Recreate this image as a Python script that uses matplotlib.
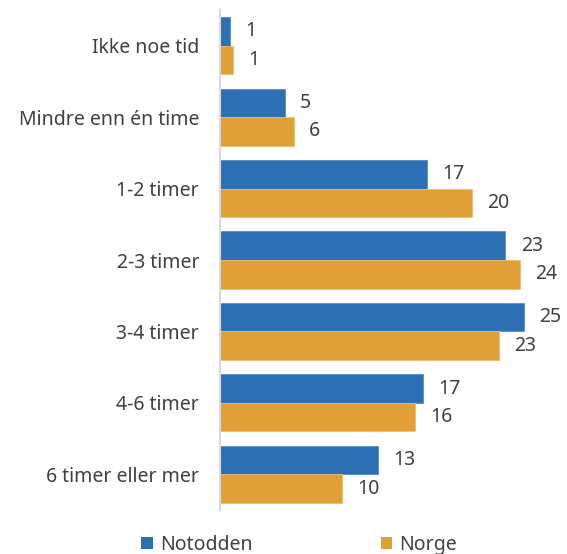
import matplotlib
matplotlib.use("Agg")
import matplotlib.pyplot as plt
from matplotlib.patches import Patch
import numpy as np

categories = ["Ikke noe tid", "Mindre enn én time", "1-2 timer", "2-3 timer",
              "3-4 timer", "4-6 timer", "6 timer eller mer"]
notodden = [0.86, 5.35, 17.07, 23.49, 25.02, 16.74, 12.98]
norge = [1.07, 6.07, 20.72, 24.69, 22.96, 16.02, 10.04]
notodden_labels = ["1", "5", "17", "23", "25", "17", "13"]
norge_labels = ["1", "6", "20", "24", "23", "16", "10"]
series_names = ["Notodden", "Norge"]

blue = "#2D6FB5"
orange = "#E09F37"
text_color = "#404040"

plt.rcParams['font.family'] = ['Noto Sans', 'DejaVu Sans']
FS = 14

W, H = 567, 554
fig = plt.figure(figsize=(W / 100, H / 100), dpi=100)
left, right, top, bottom = 220, 560, 10, 510
ax = fig.add_axes([left / W, 1 - bottom / H, (right - left) / W, (bottom - top) / H])

y = np.arange(len(categories))
bh = 0.4
ax.barh(y - bh / 2, notodden, height=bh, color=blue, edgecolor="#5A8FCB", linewidth=0.6)
ax.barh(y + bh / 2, norge, height=bh, color=orange, edgecolor="#EDBE73", linewidth=0.6)

for i in range(len(categories)):
    ax.annotate(notodden_labels[i], (notodden[i], y[i] - bh / 2), xytext=(11, 0),
                textcoords="offset points", va="center", ha="left",
                fontsize=FS, color=text_color)
    ax.annotate(norge_labels[i], (norge[i], y[i] + bh / 2), xytext=(11, 0),
                textcoords="offset points", va="center", ha="left",
                fontsize=FS, color=text_color)

ax.set_xlim(0, (right - left) / 12.15)
ax.set_ylim(len(categories) - 0.5, -0.5)
ax.set_yticks(y)
ax.set_yticklabels(categories, fontsize=FS, color=text_color)
ax.tick_params(axis="y", length=0, pad=15)
ax.set_xticks([])
for s in ["top", "right", "bottom"]:
    ax.spines[s].set_visible(False)
ax.spines["left"].set_color("#D9D9D9")
ax.spines["left"].set_linewidth(1.5)

handles = [Patch(facecolor=blue, label=series_names[0]),
           Patch(facecolor=orange, label=series_names[1])]
fig.legend(handles=handles, loc="center", bbox_to_anchor=(299 / W, 1 - 545 / H),
           ncol=2, frameon=False, fontsize=FS, handlelength=0.6, handleheight=0.6,
           handletextpad=0.35, columnspacing=6.6, labelcolor=text_color)

fig.savefig("out.png", dpi=100)
